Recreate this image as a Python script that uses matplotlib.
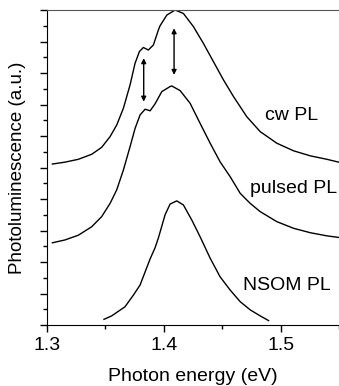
import numpy as np
import matplotlib
matplotlib.use('Agg')
import matplotlib.pyplot as plt
from matplotlib.ticker import MultipleLocator

# values
cw_x = [1.3046, 1.3154, 1.3268, 1.3383, 1.3468, 1.354, 1.3597, 1.3654, 1.3711,
        1.3754, 1.3791, 1.3825, 1.3868, 1.3911, 1.3954, 1.3968, 1.4026, 1.4097,
        1.4168, 1.4254, 1.4339, 1.4425, 1.4511, 1.4597, 1.4711, 1.4825, 1.4968,
        1.5111, 1.5254, 1.5397, 1.5497]
cw_y = [5.11, 5.17, 5.26, 5.42, 5.64, 5.98, 6.35, 6.88, 7.62,
        8.31, 8.68, 8.81, 8.73, 8.89, 9.37, 9.50, 9.84, 10.0,
        9.89, 9.47, 8.94, 8.36, 7.78, 7.25, 6.61, 6.14, 5.77,
        5.53, 5.37, 5.26, 5.17]

pulsed_x = [1.3046, 1.3154, 1.3268, 1.3383, 1.3468, 1.354, 1.3597, 1.3654, 1.3711,
            1.3754, 1.3797, 1.384, 1.3883, 1.3925, 1.3983, 1.4054, 1.4068, 1.414,
            1.4225, 1.4311, 1.4397, 1.4482, 1.4568, 1.4654, 1.474, 1.4825, 1.4968,
            1.5111, 1.5254, 1.5397, 1.5497]
pulsed_y = [2.61, 2.70, 2.85, 3.12, 3.44, 3.86, 4.29, 4.92, 5.66,
            6.24, 6.67, 6.85, 6.80, 7.02, 7.41, 7.57, 7.59, 7.44,
            7.04, 6.40, 5.77, 5.18, 4.71, 4.18, 3.86, 3.60, 3.28,
            3.07, 2.93, 2.83, 2.78]

nsom_x = [1.3488, 1.3554, 1.3668, 1.374, 1.3797, 1.3883, 1.3925, 1.3955, 1.4011,
          1.4054, 1.4111, 1.4168, 1.424, 1.4311, 1.4397, 1.4482, 1.4568, 1.4654,
          1.474, 1.4825, 1.4897]
nsom_y = [0.18, 0.29, 0.58, 0.95, 1.27, 2.10, 2.45, 2.78, 3.50,
          3.84, 3.94, 3.81, 3.33, 2.80, 2.12, 1.53, 1.11, 0.74,
          0.48, 0.29, 0.14]

arrows = [(1.3828, 8.47, 7.09), (1.4088, 9.42, 7.94)]
labels = [('cw PL', 1.4868, 6.51), ('pulsed PL', 1.474, 4.18), ('NSOM PL', 1.4677, 1.11)]

plt.rcParams['font.family'] = ['Liberation Sans', 'DejaVu Sans']

fig = plt.figure(figsize=(3.39, 3.86), dpi=100)
ax = fig.add_axes([47 / 339, 1 - 325 / 386, 1 - 47 / 339, 315 / 386])

for xs, ys in [(cw_x, cw_y), (pulsed_x, pulsed_y), (nsom_x, nsom_y)]:
    ax.plot(xs, ys, color='black', lw=1.0)

for x, y0, y1 in arrows:
    ax.annotate('', xy=(x, y1), xytext=(x, y0),
                arrowprops=dict(arrowstyle='<|-|>', color='black', lw=1.0,
                                mutation_scale=7, shrinkA=0, shrinkB=0))

for txt, x, y in labels:
    ax.text(x, y, txt, fontsize=14, ha='left', va='baseline')

ax.set_xlim(1.3, 1.55)
ax.set_ylim(0, 10)
ax.xaxis.set_minor_locator(MultipleLocator(0.05))
ax.yaxis.set_major_locator(MultipleLocator(1))
ax.yaxis.set_minor_locator(MultipleLocator(0.5))
ax.set_xticks([1.3, 1.4, 1.5])
ax.set_xticklabels(['1.3', '1.4', '1.5'])
ax.set_yticklabels([])
ax.tick_params(which='major', direction='out', length=5, width=1, labelsize=14, pad=4)
ax.tick_params(which='minor', direction='out', length=3, width=1)
ax.spines['right'].set_visible(False)
ax.spines['top'].set_color('#555555')

ax.set_xlabel('Photon energy (eV)', fontsize=14, labelpad=10)
ax.set_ylabel('Photoluminescence (a.u.)', fontsize=13.5)
ax.yaxis.set_label_coords(-21 / 292, 0.5)

fig.savefig('out.png', dpi=100)
